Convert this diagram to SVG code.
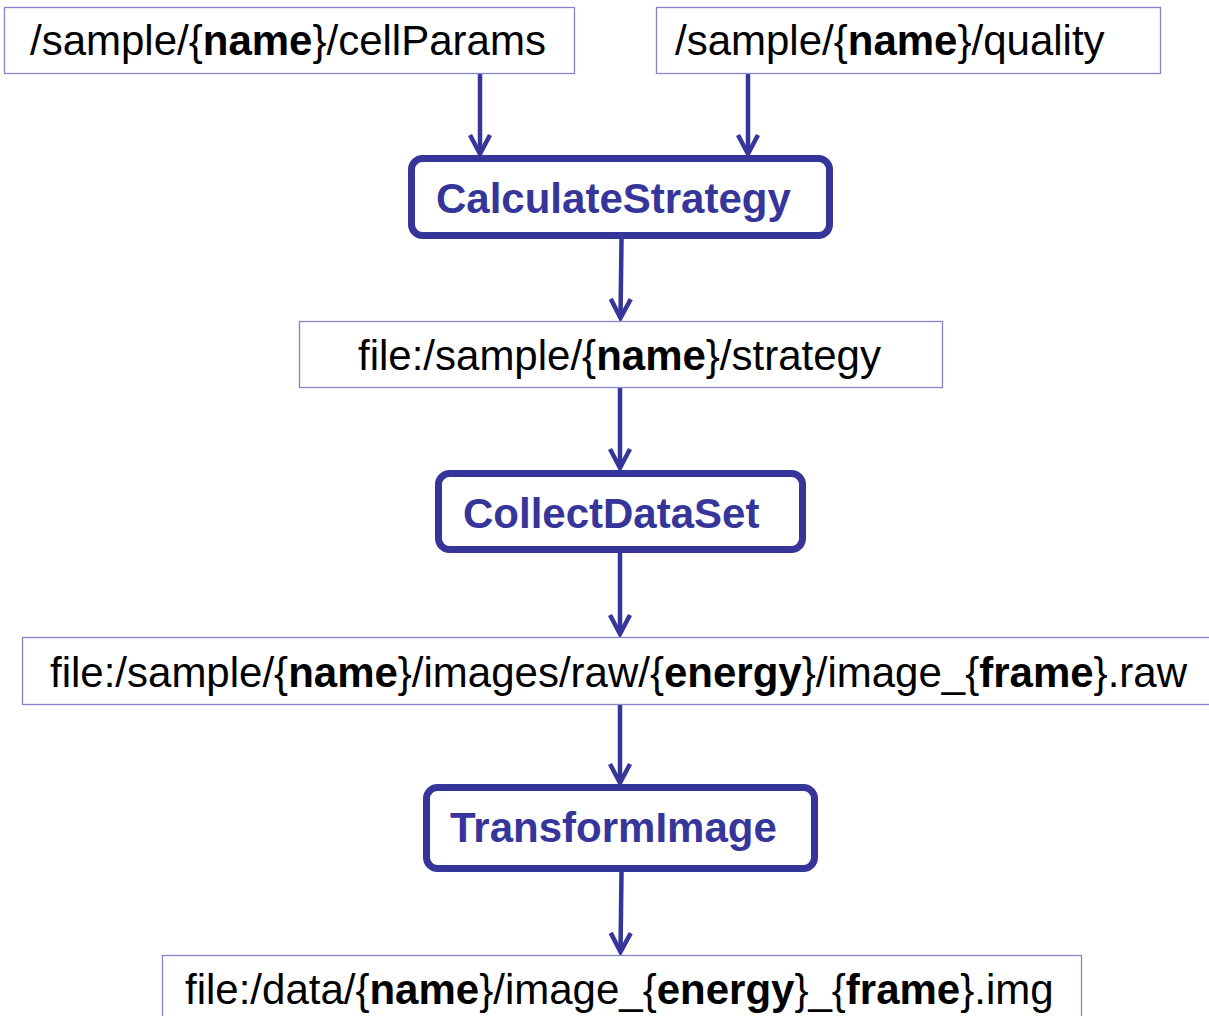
<svg xmlns="http://www.w3.org/2000/svg" width="1209" height="1016" viewBox="0 0 1209 1016">
  <style>
    .data rect { fill: #ffffff; stroke: #8585cc; stroke-width: 1.3; }
    .data text { font-family: "Liberation Sans", Arial, Helvetica, sans-serif; font-size: 42px; fill: #000000; }
    .task rect { fill: #ffffff; stroke: #35359a; stroke-width: 7; }
    .task text { font-family: "Liberation Sans", Arial, Helvetica, sans-serif; font-size: 42px; font-weight: bold; fill: #35359a; }
    .b { font-weight: bold; }
    .edges path { fill: none; stroke: #35359a; stroke-width: 4.5; marker-end: url(#arrow); }
  </style>
  <defs>
    <marker id="arrow" markerUnits="userSpaceOnUse" orient="auto" refX="0" refY="0" markerWidth="30" markerHeight="30" viewBox="-24 -15 30 30" overflow="visible">
      <path d="M-19,-10 L0,0 L-19,10" fill="none" stroke="#35359a" stroke-width="4.5" stroke-linejoin="miter"/>
    </marker>
  </defs>

  <rect width="1209" height="1016" fill="#ffffff"/>

  <!-- connectors -->
  <g class="edges" id="edges">
    <path d="M480,73 L480,154"/>
    <path d="M748,73 L748,154"/>
    <path d="M621.5,239 L620.5,318"/>
    <path d="M620,387 L620,468"/>
    <path d="M620,553 L620,634"/>
    <path d="M620,704 L620,783"/>
    <path d="M621.5,872 L620.5,952"/>
  </g>

  <!-- data nodes -->
  <g class="data" id="cellParams">
    <rect x="4.5" y="7.5" width="570" height="66"/>
    <text x="30" y="55">/sample/{<tspan class="b">name</tspan>}/cellParams</text>
  </g>
  <g class="data" id="quality">
    <rect x="656.5" y="7.5" width="504" height="66"/>
    <text x="675" y="55">/sample/{<tspan class="b">name</tspan>}/quality</text>
  </g>
  <g class="data" id="strategy">
    <rect x="299.5" y="321.5" width="643" height="66"/>
    <text x="358" y="370">file:/sample/{<tspan class="b">name</tspan>}/strategy</text>
  </g>
  <g class="data" id="rawImages">
    <rect x="22.5" y="637.5" width="1195" height="67"/>
    <text x="50" y="687">file:/sample/{<tspan class="b">name</tspan>}/images/raw/{<tspan class="b">energy</tspan>}/image_{<tspan class="b">frame</tspan>}.raw</text>
  </g>
  <g class="data" id="images">
    <rect x="162.5" y="955.5" width="919" height="70"/>
    <text x="185" y="1004">file:/data/{<tspan class="b">name</tspan>}/image_{<tspan class="b">energy</tspan>}_{<tspan class="b">frame</tspan>}.img</text>
  </g>

  <!-- task nodes -->
  <g class="task" id="CalculateStrategy">
    <rect x="411.5" y="158.5" width="418" height="77" rx="11" ry="11"/>
    <text x="436" y="213">CalculateStrategy</text>
  </g>
  <g class="task" id="CollectDataSet">
    <rect x="438.5" y="473.5" width="364" height="76" rx="11" ry="11"/>
    <text x="463" y="528">CollectDataSet</text>
  </g>
  <g class="task" id="TransformImage">
    <rect x="426.5" y="787.5" width="388" height="81" rx="11" ry="11"/>
    <text x="450" y="842">TransformImage</text>
  </g>
</svg>
